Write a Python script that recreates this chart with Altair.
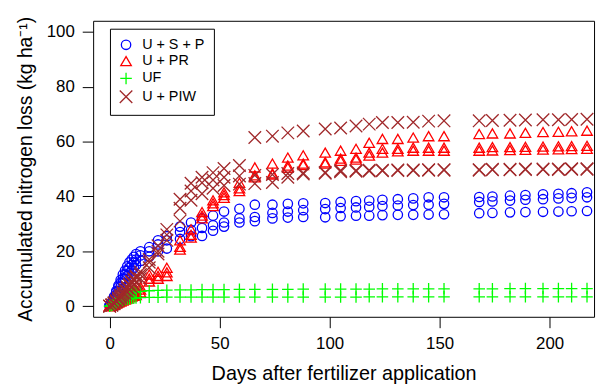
import altair as alt
import pandas as pd

days = [0, 1, 2, 3, 4, 5, 6, 7, 8, 9, 10, 11, 12, 14, 18, 22, 26,
        32, 37, 42, 47, 52, 59, 66,
        74, 81, 88, 98, 105, 112, 118, 124, 131, 138, 145, 152,
        168, 174, 182, 189, 197, 204, 210, 217]

series_names = ["U + S + P", "U + PR", "UF", "U + PIW"]
series_colors = ["#0000FF", "#FF0000", "#00FF00", "#A0282A"]

# U + S + P (three replicates)
usp_a = [0.3, 1.5, 3.5, 5.5, 7.5, 9.5, 11.5, 13, 14.5, 16, 17, 18, 19, 20, 21.5, 24, 25.5,
         29, 30.5, 32, 33, 34.5, 35.5, 37,
         37, 37.3, 37.5, 37.6, 38, 38.3, 38.5, 38.8, 39, 39.3, 39.7, 39.7,
         39.8, 40, 40.3, 40.5, 40.8, 41, 41.2, 41.5]
usp_b = [0.2, 1, 3, 5, 7, 8.5, 10, 11.5, 13, 14, 15, 16, 17, 18.5, 20, 22.5, 24,
         27, 27.8, 28.5, 29.5, 30.5, 32, 32.5,
         34, 34.5, 35, 35.4, 35.8, 36, 36.2, 36.5, 36.7, 36.9, 37, 37.3,
         38, 38.2, 38.5, 38.8, 39, 39.3, 39.5, 39.7]
usp_c = [0.1, 0.8, 2.5, 4, 5.5, 7, 8.5, 10, 11, 12, 13, 14, 15, 16.5, 18, 20, 21,
         24.5, 25.5, 25.6, 27.5, 29, 30.5, 31,
         32, 32.3, 32.5, 32.4, 32.8, 33, 33, 33.2, 33.3, 33.3, 33.4, 33.5,
         33.9, 34, 34.2, 34.3, 34.4, 34.5, 34.6, 34.7]

# U + PR (three replicates)
upr_a = [0, 0.5, 1, 1.5, 2, 2.5, 3, 3.5, 4, 4.5, 5, 5.5, 6, 7, 11.5, 12.5, 14,
         24, 28, 34.3, 38.6, 41.5, 45, 50.6,
         52, 54.2, 55, 56, 56.7, 57.4, 59.6, 61, 61, 61.5, 62, 62,
         62.8, 63, 63, 63.2, 63.5, 63.6, 63.8, 64]
upr_b = [0, 0.3, 0.8, 1.2, 1.6, 2, 2.5, 3, 3.5, 4, 4.3, 4.7, 5, 6, 10, 11, 12.3,
         21.6, 26, 33, 37.5, 40.5, 43, 47.7,
         48.4, 51.3, 52, 52.5, 53.8, 54.2, 56, 57.4, 57.4, 57.8, 57.8, 57.8,
         57.8, 58, 58, 58.1, 58.2, 58.3, 58.4, 58.5]
upr_c = [0, 0.2, 0.5, 0.9, 1.3, 1.7, 2, 2.4, 2.8, 3.2, 3.5, 3.8, 4, 5, 9, 10, 11,
         20.6, 25, 32, 36.5, 39.5, 42, 47,
         48, 50.5, 51.5, 52, 53, 53.5, 54.9, 56, 56.5, 56.7, 56.7, 56.7,
         56.7, 56.8, 56.9, 57, 57.1, 57.2, 57.3, 57.4]

# UF (two visible replicate levels)
uf_a = [0, 0.4, 0.9, 1.5, 2.1, 2.7, 3.2, 3.7, 4.1, 4.5, 4.8, 5, 5.2, 5.4, 5.6, 5.7, 5.8,
        5.9, 5.9, 6, 6, 6, 6.1, 6.1,
        6.1, 6.1, 6.2, 6.2, 6.2, 6.2, 6.2, 6.3, 6.3, 6.3, 6.3, 6.3,
        6.3, 6.3, 6.4, 6.4, 6.4, 6.4, 6.4, 6.4]
uf_b = [0, 0.2, 0.5, 0.9, 1.3, 1.7, 2, 2.3, 2.5, 2.7, 2.8, 2.9, 3, 3.1, 3.2, 3.2, 3.3,
        3.3, 3.3, 3.3, 3.3, 3.3, 3.3, 3.3,
        3.3, 3.3, 3.3, 3.3, 3.3, 3.3, 3.4, 3.4, 3.4, 3.4, 3.4, 3.4,
        3.4, 3.4, 3.4, 3.4, 3.4, 3.4, 3.4, 3.4]

# U + PIW (three replicates)
upiw_a = [0, 0.5, 1.2, 2, 3, 4, 5, 6, 7, 8, 9, 10, 11, 12.5, 17, 22, 28,
          39, 44.8, 47, 48.7, 50.2, 51.3, 61.5,
          62, 63.2, 63.9, 64.6, 65, 65.7, 66.4, 67, 67, 67.1, 67.5, 67.6,
          67.6, 67.7, 67.8, 67.9, 68, 68, 68.1, 68.2]
upiw_b = [0, 0.4, 1, 1.8, 2.7, 3.5, 4.5, 5.5, 6.5, 7.5, 8.5, 9.5, 10.5, 11.5, 16, 20, 26,
          35.7, 42, 45, 46, 47, 47.5, 47.7,
          48, 48.4, 48.6, 48.8, 49.5, 49.5, 49.6, 49.6, 49.7, 49.7, 49.8, 49.8,
          49.8, 49.9, 49.9, 50, 50, 50, 50.1, 50.1]
upiw_c = [0, 0.3, 0.8, 1.5, 2.2, 3, 3.8, 4.6, 5.4, 6.2, 7, 7.8, 8.6, 10, 14, 19, 24,
          31, 38.6, 41, 43, 44, 44.5, 44.7,
          45.1, 47, 48.2, 48.5, 49, 49.2, 49.3, 49.4, 49.5, 49.5, 49.6, 49.6,
          49.6, 49.7, 49.7, 49.8, 49.8, 49.8, 49.9, 49.9]

x_ticks = [0, 50, 100, 150, 200]
y_ticks = [0, 20, 40, 60, 80, 100]

groups = [
    ("U + S + P", [usp_a, usp_b, usp_c]),
    ("U + PR", [upr_a, upr_b, upr_c]),
    ("UF", [uf_a, uf_b]),
    ("U + PIW", [upiw_a, upiw_b, upiw_c]),
]
rows = []
for name, reps in groups:
    for rep in reps:
        for d, v in zip(days, rep):
            rows.append({"day": d, "loss": v, "series": name, "kind": name})
df = pd.DataFrame(rows)

PLUS = "M-1,0L1,0M0,-1L0,1"
XSHAPE = "M-1,-1L1,1M-1,1L1,-1"

FONT = "Liberation Sans"

x_enc = alt.X("day:Q",
              scale=alt.Scale(domain=[-7.5, 220.2], nice=False, zero=False),
              axis=alt.Axis(values=x_ticks, title="Days after fertilizer application",
                            titlePadding=12))
y_enc = alt.Y("loss:Q",
              scale=alt.Scale(domain=[-3.9, 104.1], nice=False, zero=False),
              axis=alt.Axis(values=y_ticks, title="Accumulated nitrogen loss (kg ha⁻¹)",
                            titlePadding=11))
color_scale = alt.Scale(domain=series_names, range=series_colors)
shape_scale = alt.Scale(domain=series_names,
                        range=["circle", "triangle-up", PLUS, XSHAPE])

leg = dict(title=None, orient="none", legendX=17, legendY=8, symbolSize=40,
           symbolStrokeWidth=1.3)

legend_layer = alt.Chart(df).transform_filter(
    "datum.day < 0"
).mark_point(filled=False, strokeWidth=1.3, opacity=1, size=40).encode(
    x=x_enc,
    y=y_enc,
    color=alt.Color("series:N", scale=color_scale, legend=alt.Legend(**leg)),
    shape=alt.Shape("series:N", scale=shape_scale, legend=alt.Legend(**leg)),
)

points = alt.Chart(df).mark_point(filled=False, strokeWidth=1.3, opacity=1).encode(
    x=x_enc,
    y=y_enc,
    color=alt.Color("series:N", scale=color_scale),
    shape=alt.Shape("series:N", scale=shape_scale),
    size=alt.Size("kind:N",
                  scale=alt.Scale(domain=series_names, range=[90, 160, 144, 90]),
                  legend=None),
)

chart = alt.layer(legend_layer, points).properties(
    width=506,
    height=299,
    autosize=alt.AutoSizeParams(type="none"),
    padding={"left": 86, "top": 11, "right": 5, "bottom": 69},
).configure_view(
    stroke="black", strokeWidth=1
).configure_axis(
    grid=False, domain=False,
    tickColor="black", tickSize=11, tickWidth=1,
    labelColor="black", labelFont=FONT, labelFontSize=17, labelPadding=8,
    titleColor="black", titleFont=FONT, titleFontWeight="normal",
    labelAngle=0,
).configure_axisX(
    titleFontSize=20,
).configure_axisY(
    titleFontSize=19.5,
).configure_legend(
    strokeColor="black", strokeWidth=1, fillColor="white", padding=9,
    labelFont=FONT, labelFontSize=14.5, labelColor="black",
    symbolSize=40, symbolStrokeWidth=1.3, rowPadding=0.5, labelOffset=9,
    cornerRadius=0,
)

chart.save("out.html", embed_options={"renderer": "svg", "actions": False})
